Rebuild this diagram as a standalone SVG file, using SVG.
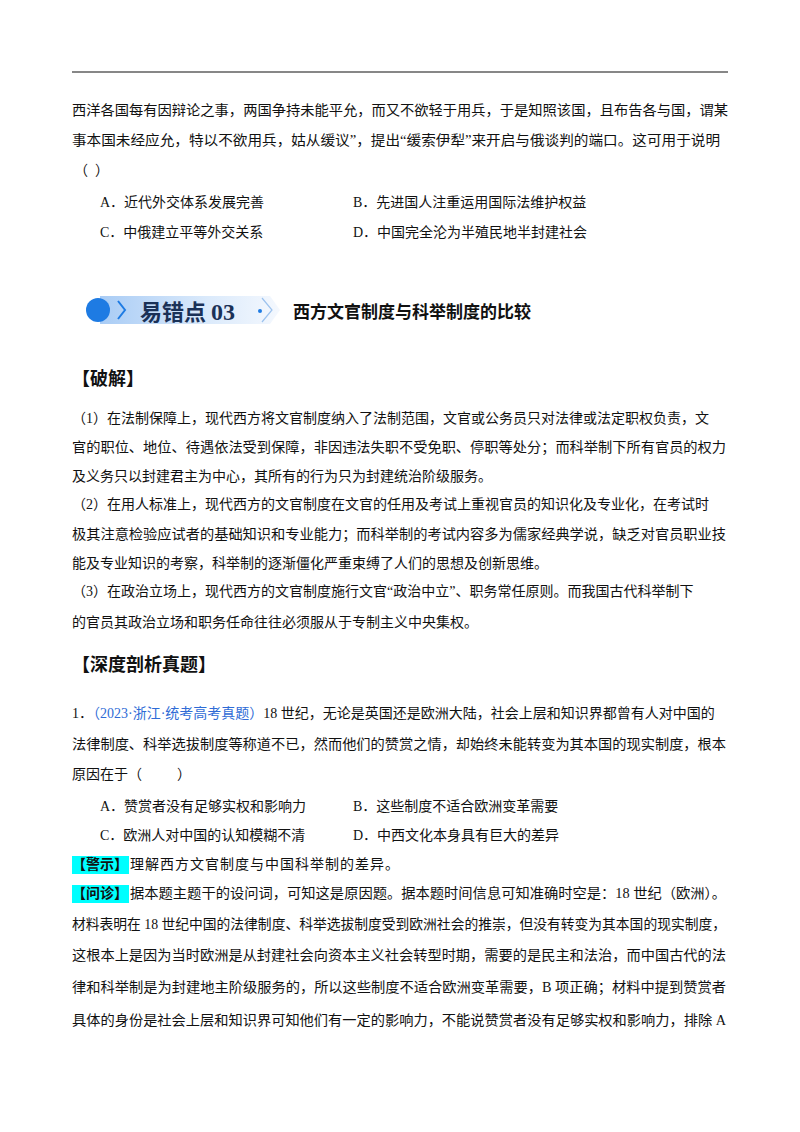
<svg xmlns="http://www.w3.org/2000/svg" width="800" height="1132" viewBox="0 0 800 1132">
<style>
text{font-family:"Liberation Serif","Noto Sans CJK SC",serif;font-size:14px;fill:#111}
.h{font-size:18px;font-weight:bold}
.b{font-weight:bold}
.blue{fill:#2e6bd6}
</style>
<defs>
<linearGradient id="g" x1="0" x2="1" y1="0" y2="0">
<stop offset="0" stop-color="#a9ccf5"/><stop offset="0.6" stop-color="#dbeafb"/><stop offset="1" stop-color="#f4f8fe"/>
</linearGradient>
</defs>
<rect width="800" height="1132" fill="#fff"/>
<line x1="72" y1="72" x2="728" y2="72" stroke="#111" stroke-width="1.2"/>
<text x="72" y="115" textLength="656" lengthAdjust="spacingAndGlyphs">西洋各国每有因辩论之事，两国争持未能平允，而又不欲轻于用兵，于是知照该国，且布告各与国，谓某</text>
<text x="72" y="145" textLength="648" lengthAdjust="spacingAndGlyphs">事本国未经应允，特以不欲用兵，姑从缓议”，提出“缓索伊犁”来开启与俄谈判的端口。这可用于说明</text>
<text x="74" y="175" xml:space="preserve">（  ）</text>
<text x="100" y="207">A．近代外交体系发展完善</text>
<text x="353" y="207">B．先进国人注重运用国际法维护权益</text>
<text x="100" y="237">C．中俄建立平等外交关系</text>
<text x="353" y="237">D．中国完全沦为半殖民地半封建社会</text>
<g id="banner">
<path d="M100 296 H270 L280 310 L270 324 H100 Z" fill="url(#g)"/>
<path d="M262 298 L272 310 L262 322" fill="none" stroke="#9cc2ee" stroke-width="1.2"/>
<circle cx="98" cy="310" r="12" fill="#1e7be3"/>
<path d="M118 301 L125 310 L118 319" fill="none" stroke="#1e7be3" stroke-width="2"/>
<text x="140" y="320" style="font-size:22px;font-weight:bold;fill:#1a3157;font-family:'Noto Sans CJK SC',sans-serif">易错点 <tspan style="font-family:'Liberation Serif',serif;font-size:24px">03</tspan></text>
<circle cx="260" cy="311" r="2" fill="#1e7be3"/>
</g>
<text x="293" y="318" style="font-size:17px;font-weight:bold">西方文官制度与科举制度的比较</text>
<text x="72" y="385" class="h">【破解】</text>
<text x="72" y="423">（1）在法制保障上，现代西方将文官制度纳入了法制范围，文官或公务员只对法律或法定职权负责，文</text>
<text x="72" y="452" textLength="654" lengthAdjust="spacingAndGlyphs">官的职位、地位、待遇依法受到保障，非因违法失职不受免职、停职等处分；而科举制下所有官员的权力</text>
<text x="72" y="481">及义务只以封建君主为中心，其所有的行为只为封建统治阶级服务。</text>
<text x="72" y="509">（2）在用人标准上，现代西方的文官制度在文官的任用及考试上重视官员的知识化及专业化，在考试时</text>
<text x="72" y="539" textLength="654" lengthAdjust="spacingAndGlyphs">极其注意检验应试者的基础知识和专业能力；而科举制的考试内容多为儒家经典学说，缺乏对官员职业技</text>
<text x="72" y="568">能及专业知识的考察，科举制的逐渐僵化严重束缚了人们的思想及创新思维。</text>
<text x="72" y="596">（3）在政治立场上，现代西方的文官制度施行文官“政治中立”、职务常任原则。而我国古代科举制下</text>
<text x="72" y="627">的官员其政治立场和职务任命往往必须服从于专制主义中央集权。</text>
<text x="72" y="671" class="h">【深度剖析真题】</text>
<text x="72" y="718">1．<tspan class="blue">（2023·浙江·统考高考真题）</tspan>18 世纪，无论是英国还是欧洲大陆，社会上层和知识界都曾有人对中国的</text>
<text x="72" y="749" textLength="654" lengthAdjust="spacingAndGlyphs">法律制度、科举选拔制度等称道不已，然而他们的赞赏之情，却始终未能转变为其本国的现实制度，根本</text>
<text x="72" y="779" xml:space="preserve">原因在于（          ）</text>
<text x="100" y="811">A．赞赏者没有足够实权和影响力</text>
<text x="353" y="811">B．这些制度不适合欧洲变革需要</text>
<text x="100" y="840">C．欧洲人对中国的认知模糊不清</text>
<text x="353" y="840">D．中西文化本身具有巨大的差异</text>
<rect x="72" y="856" width="57" height="18" fill="#00ffff"/>
<text x="72" y="869" class="b">【警示】</text>
<text x="130" y="869" style="letter-spacing:1px">理解西方文官制度与中国科举制的差异。</text>
<rect x="72" y="885" width="57" height="18" fill="#00ffff"/>
<text x="72" y="898" class="b">【问诊】</text>
<text x="130" y="898" textLength="596" lengthAdjust="spacingAndGlyphs">据本题主题干的设问词，可知这是原因题。据本题时间信息可知准确时空是：18 世纪（欧洲）。</text>
<text x="72" y="929" textLength="654" lengthAdjust="spacingAndGlyphs">材料表明在 18 世纪中国的法律制度、科举选拔制度受到欧洲社会的推崇，但没有转变为其本国的现实制度，</text>
<text x="72" y="960" textLength="654" lengthAdjust="spacingAndGlyphs">这根本上是因为当时欧洲是从封建社会向资本主义社会转型时期，需要的是民主和法治，而中国古代的法</text>
<text x="72" y="992" textLength="654" lengthAdjust="spacingAndGlyphs">律和科举制是为封建地主阶级服务的，所以这些制度不适合欧洲变革需要，B 项正确；材料中提到赞赏者</text>
<text x="72" y="1025" textLength="654" lengthAdjust="spacingAndGlyphs">具体的身份是社会上层和知识界可知他们有一定的影响力，不能说赞赏者没有足够实权和影响力，排除 A</text>
</svg>
